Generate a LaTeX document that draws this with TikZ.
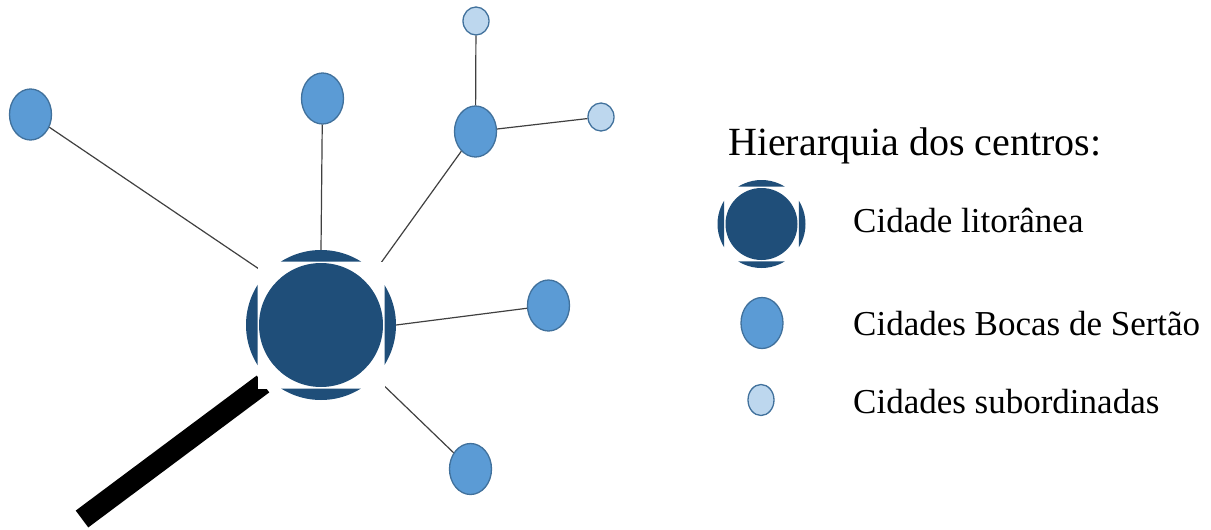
\documentclass[tikz,border=0pt]{standalone}
\usepackage{fontspec}
\setmainfont{Liberation Serif}
\usetikzlibrary{shapes.geometric}
\definecolor{darkblue}{HTML}{1F4E79}
\definecolor{midblue}{HTML}{5B9BD5}
\definecolor{lightblue}{HTML}{BDD7EE}
\definecolor{edgeblue}{HTML}{41719C}
\definecolor{linkgray}{HTML}{404040}
\newcommand\coastcitymark[5]{%
  % #1 x, #2 y, #3 outer radius, #4 half side of cut square, #5 inner radius
  \begin{scope}[shift={(#1,#2)}]
    \fill[white] (-#4,-#4) rectangle (#4,#4);
    \begin{scope}
      \clip (0,0) circle (#3pt);
      \fill[darkblue,even odd rule] (-#3-2,-#3-2) rectangle (#3+2,#3+2)
                                    (-#4,-#4) rectangle (#4,#4);
    \end{scope}
    \fill[darkblue] (0,0) circle (#5pt);
  \end{scope}}
\begin{document}
\begin{tikzpicture}[x=1pt,y=-1pt,
  boca/.style={ellipse,draw=edgeblue,fill=midblue,line width=1.3pt,
    minimum width=42pt,minimum height=51pt,inner sep=0pt},
  subcity/.style={ellipse,draw=edgeblue,fill=lightblue,line width=1.3pt,
    minimum width=26pt,minimum height=28pt,inner sep=0pt},
  link/.style={draw=linkgray,line width=1.2pt},
  legendtext/.style={anchor=base west,inner sep=0pt,
    font=\fontsize{35}{40}\selectfont},
  titletext/.style={anchor=base west,inner sep=0pt,
    font=\fontsize{40}{45}\selectfont}]
\useasboundingbox (0,0) rectangle (1211,530);

% central city (invisible node for the connectors)
\node[circle,minimum size=150pt,inner sep=0pt] (big) at (321,325) {};

% Bocas de Sertao
\node[boca] (b1) at (30.5,114.5) {};
\node[boca] (b2) at (322.5,98.5) {};
\node[boca] (b3) at (475.5,131.5) {};
\node[boca] (b4) at (548.5,305.5) {};
\node[boca] (b5) at (470.5,469) {};

% subordinate cities
\node[subcity] (s1) at (476,21) {};
\node[subcity] (s2) at (601,117) {};

% connectors
\coordinate (aim3) at (378,267);
\draw[link] (b1) -- (big.137);
\draw[link] (b2) -- (big.north);
\draw[link] (b3) -- (aim3);
\draw[link] (b4) -- (big.east);
\draw[link] (b5) -- (big);
\draw[link] (s1) -- (b3);
\draw[link] (s2) -- (b3);

% handle of the magnifying glass
\coordinate (hb) at (82,519);
\coordinate (ht) at (263,384);
\draw[line width=21pt,black] (hb) -- (ht);

% central coastal city symbol
\coastcitymark{321}{325}{75}{63.5}{62}

% legend
\node[titletext] (title) at (728,155) {Hierarquia dos centros:};
\coastcitymark{761.5}{224}{44}{37.3}{36}
\node[legendtext] (t1) at (853,232) {Cidade litorânea};
\node[boca] (lb) at (762,323) {};
\node[legendtext] (t2) at (853,335) {Cidades Bocas de Sertão};
\node[subcity,minimum height=31pt] (ls) at (761,400) {};
\node[legendtext] (t3) at (853,413) {Cidades subordinadas};
\end{tikzpicture}
\end{document}
